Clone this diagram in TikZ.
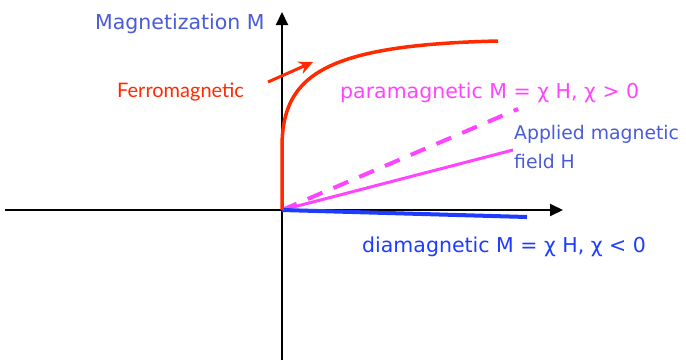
\documentclass[tikz,border=0pt]{standalone}
\usepackage{fontspec}
\setmainfont{DejaVu Sans}
\newfontfamily\ferrofont{Lato}
\usetikzlibrary{arrows.meta}

\definecolor{ferrored}{HTML}{FF2A00}
\definecolor{paramag}{HTML}{FF44FF}
\definecolor{axislabel}{HTML}{4A5BD8}
\definecolor{diablue}{HTML}{1E3CFF}

\begin{document}
\begin{tikzpicture}[
  x=1pt,y=-1pt,
  axis/.style={line width=2pt,-{Triangle[length=13pt,width=12pt]}},
  curve/.style={line width=3.5pt},
  label/.style={font=\fontsize{20.5}{28}\selectfont,inner sep=0pt},
  ferro/.style={font=\ferrofont\fontsize{20}{22}\selectfont,inner sep=0pt}
]
  \useasboundingbox (0,0) rectangle (686,360);

  \coordinate (O) at (282,210);
  \coordinate (xleft) at (5,210);
  \coordinate (xright) at (563,210);
  \coordinate (ybottom) at (282,360);
  \coordinate (ytop) at (282,12);

  \draw[axis] (xleft) -- (xright);
  \draw[axis] (ybottom) -- (ytop);

  % response curves
  \coordinate (ferroend) at (498,41);
  \coordinate (paraend) at (518,109);
  \coordinate (appliedend) at (513,150);
  \coordinate (diaend) at (527,217);

  \draw[curve,paramag,line width=4pt,dash pattern=on 16pt off 12pt] (O) -- (paraend);
  \draw[curve,paramag,line width=3pt] (O) -- (appliedend);
  \draw[curve,diablue,line width=4pt] (O) -- (diaend);
  \draw[curve,ferrored] (O) -- (282,145) .. controls (283,75) and (325,45) .. (ferroend);

  % labels
  \node[label,axislabel,anchor=base west] (magM) at (95,29) {Magnetization M};
  \node[ferro,ferrored,anchor=base west] (ferrolabel) at (117,97) {Ferromagnetic};
  \node[label,paramag,anchor=base west] (paralabel) at (340,98) {paramagnetic M = χ H, χ > 0};
  \node[label,axislabel,anchor=base west,align=left,font=\fontsize{18.8}{29}\selectfont] (fieldH) at (514,168) {Applied magnetic\\field H};
  \node[label,diablue,anchor=base west] (dialabel) at (362,252) {diamagnetic M = χ H, χ < 0};

  \coordinate (ferrotip) at (313,62);
  \draw[ferrored,line width=3pt,-{Stealth[length=14pt,width=13pt]}] (268,82) -- (ferrotip);
\end{tikzpicture}
\end{document}
